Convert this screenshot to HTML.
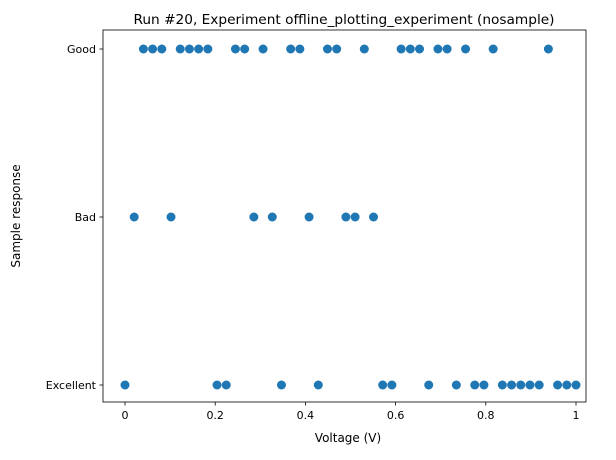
<!DOCTYPE html>
<html><head><meta charset="utf-8"><style>
body{margin:0;background:#fff;font-family:"Liberation Sans","DejaVu Sans",sans-serif;}
svg text{font-family:"DejaVu Sans","Liberation Sans",sans-serif;}
</style></head><body>
<svg id="chart" width="616" height="455" xmlns="http://www.w3.org/2000/svg">
<rect width="616" height="455" fill="#fff"/>
<text x="344" y="24" font-size="13.7" text-anchor="middle" fill="#000">Run #20, Experiment offline_plotting_experiment (nosample)</text>
<text x="348" y="442" font-size="12" text-anchor="middle">Voltage (V)</text>
<text x="20" y="216" font-size="12" text-anchor="middle" transform="rotate(-90 20 216)">Sample response</text>
<g id="marks"></g>
<g id="axes"></g>
</svg>
<script>
const categories = ["Excellent","Bad","Good"];
const responses = ["Excellent","Bad","Good","Good","Good","Bad","Good","Good","Good","Good",
"Excellent","Excellent","Good","Good","Bad","Good","Bad","Excellent","Good","Good",
"Bad","Excellent","Good","Good","Bad","Bad","Good","Bad","Excellent","Excellent",
"Good","Good","Good","Excellent","Good","Good","Excellent","Good","Excellent","Excellent",
"Good","Excellent","Excellent","Excellent","Excellent","Excellent","Good","Excellent","Excellent","Excellent"];
const voltages = responses.map((_, i) => i / 49);
const xTicks = [0,0.2,0.4,0.6,0.8,1];
const xTickLabels = ["0","0.2","0.4","0.6","0.8","1"];

const NS="http://www.w3.org/2000/svg";
const L=103,R=586,T=30,B=402;
const xs=v=>125+v*451;
const ys=c=>385-categories.indexOf(c)*168;
const marks=document.getElementById('marks');
voltages.forEach((v,i)=>{
  const c=document.createElementNS(NS,'circle');
  c.setAttribute('cx',xs(v));c.setAttribute('cy',ys(responses[i]));
  c.setAttribute('r',4.5);c.setAttribute('fill','#1f77b4');
  
  
  marks.appendChild(c);
});
const axes=document.getElementById('axes');
const frame=document.createElementNS(NS,'rect');
frame.setAttribute('x',L);frame.setAttribute('y',T);frame.setAttribute('width',R-L);frame.setAttribute('height',B-T);
frame.setAttribute('fill','none');frame.setAttribute('stroke','#000');frame.setAttribute('stroke-width','0.8');


axes.appendChild(frame);
xTicks.forEach((t,i)=>{
  const ln=document.createElementNS(NS,'line');
  ln.setAttribute('x1',xs(t));ln.setAttribute('x2',xs(t));ln.setAttribute('y1',B);ln.setAttribute('y2',B+3.5);
  ln.setAttribute('stroke','#000');ln.setAttribute('stroke-width','0.8');
  
  
  axes.appendChild(ln);
  const tx=document.createElementNS(NS,'text');
  tx.setAttribute('x',xs(t));tx.setAttribute('y',B+17);tx.setAttribute('font-size','11');tx.setAttribute('text-anchor','middle');
  tx.textContent=xTickLabels[i];
  
  
  axes.appendChild(tx);
});
categories.forEach(c=>{
  const ln=document.createElementNS(NS,'line');
  ln.setAttribute('x1',L-3.5);ln.setAttribute('x2',L);ln.setAttribute('y1',ys(c));ln.setAttribute('y2',ys(c));
  ln.setAttribute('stroke','#000');ln.setAttribute('stroke-width','0.8');
  
  
  axes.appendChild(ln);
  const tx=document.createElementNS(NS,'text');
  tx.setAttribute('x',L-7);tx.setAttribute('y',ys(c)+4);tx.setAttribute('font-size','11');tx.setAttribute('text-anchor','end');
  tx.textContent=c;
  
  
  axes.appendChild(tx);
});
</script>
</body></html>
